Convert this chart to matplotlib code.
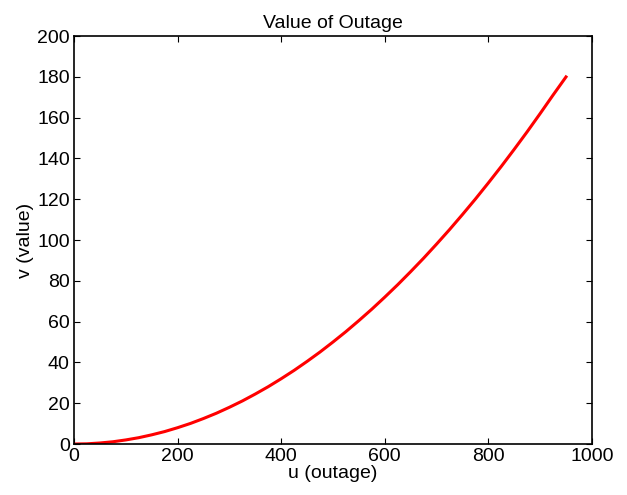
import matplotlib
matplotlib.use("Agg")
import matplotlib.pyplot as plt
from matplotlib.ticker import MultipleLocator

u_outage = [0, 25, 50, 75, 100, 125, 150, 175, 200, 225, 250, 275, 300, 325,
            350, 375, 400, 425, 450, 475, 500, 525, 550, 575, 600, 625, 650,
            675, 700, 725, 750, 775, 800, 825, 850, 875, 900, 925, 950]
v_value = [0, 0.1, 0.5, 1.1, 2, 3.1, 4.5, 6.1, 8, 10.1, 12.5, 15.1, 18, 21.1,
           24.5, 28.1, 32, 36.1, 40.5, 45.1, 50, 55.1, 60.5, 66.1, 72, 78.1, 84.5,
           91.1, 98, 105.1, 112.5, 120.1, 128, 136.1, 144.5, 153.1, 162, 171.1, 180]

plt.rcParams['font.family'] = "Liberation Sans"

fig = plt.figure(figsize=(6.27, 4.95), dpi=100)
ax = fig.add_axes([0.118, 0.103, 0.826, 0.824])
ax.plot(u_outage, v_value, color='r', lw=2.2)
ax.set_xlim([0, 1000])
ax.set_ylim([0, 200])
ax.xaxis.set_major_locator(MultipleLocator(200))
ax.yaxis.set_major_locator(MultipleLocator(20))
ax.tick_params(direction='in', top=True, right=True, labelsize=14, length=4, pad=3)
for s in ax.spines.values():
    s.set_linewidth(1.2)
ax.set_xlabel("u (outage)", fontsize=14, labelpad=0)
ax.set_ylabel("v (value)", fontsize=14, labelpad=2)
ax.set_title("Value of Outage", fontsize=14, pad=6)

fig.savefig("out.png", dpi=100)
